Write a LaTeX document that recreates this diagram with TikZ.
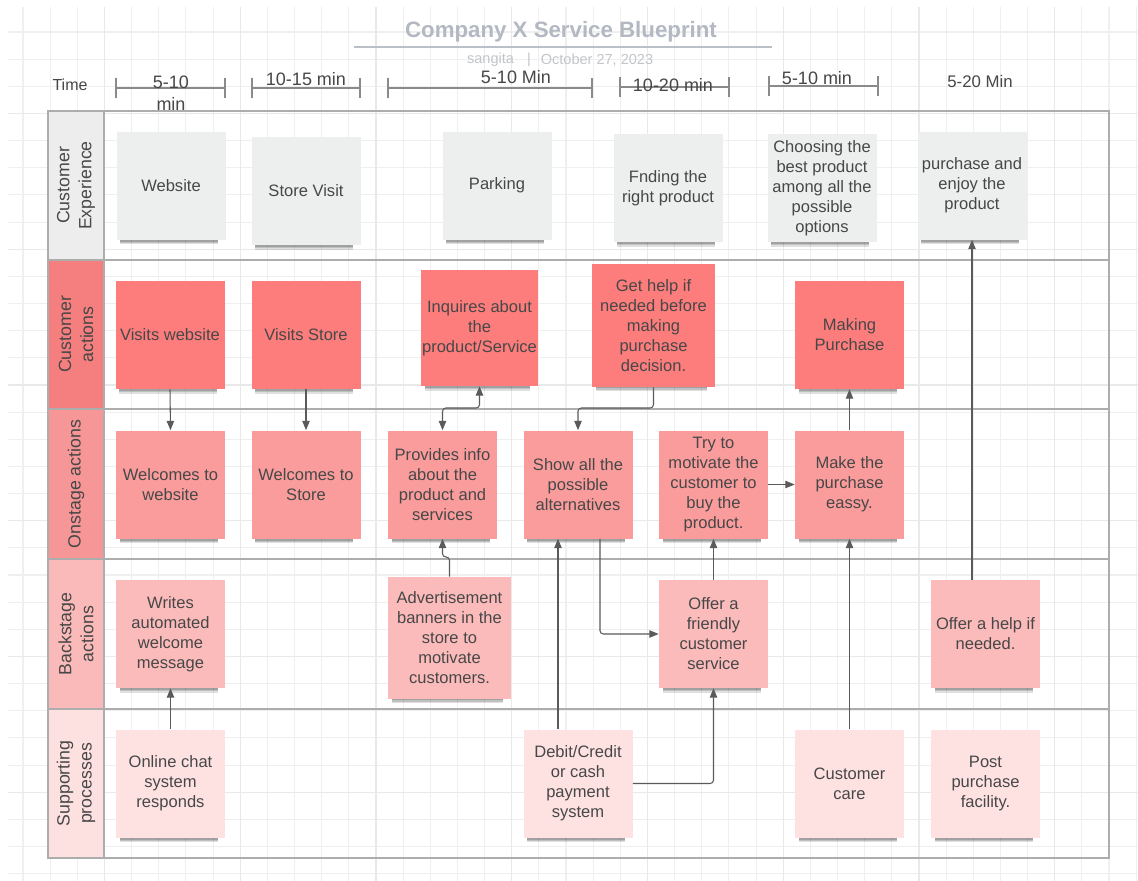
\documentclass[tikz,border=0pt]{standalone}
\usepackage{fontspec}
\setmainfont{Liberation Sans}
\usetikzlibrary{arrows.meta,shadows}

\definecolor{gridminor}{HTML}{EFEFEF}
\definecolor{gridmajor}{HTML}{E9E9E9}
\definecolor{framec}{HTML}{ADADAD}
\definecolor{txt}{HTML}{474747}
\definecolor{linec}{HTML}{5A5A5A}
\definecolor{rulerc}{HTML}{8A8A8A}
\definecolor{titlec}{HTML}{B3B8C2}
\definecolor{subc}{HTML}{C2C5CA}
% lane colours
\definecolor{laneCE}{HTML}{EDEDED}
\definecolor{laneCA}{HTML}{F57F7F}
\definecolor{laneON}{HTML}{F69696}
\definecolor{laneBK}{HTML}{FBBABA}
\definecolor{laneSP}{HTML}{FDE0E0}
% card colours
\definecolor{cardCE}{HTML}{EDEEEE}
\definecolor{cardCA}{HTML}{FD7D7D}
\definecolor{cardON}{HTML}{FA9C9C}
\definecolor{cardBK}{HTML}{FCBBBB}
\definecolor{cardSP}{HTML}{FEE2E2}

\begin{document}
\begin{tikzpicture}[x=0.75pt,y=-0.75pt,
  card/.style={rectangle, inner sep=0pt, align=center, text=txt,
    font=\fontsize{12.4pt}{15pt}\selectfont,
    minimum width=81.75pt, minimum height=81pt,
    drop shadow={shadow xshift=-1.5pt, shadow yshift=-8.6pt, shadow scale=0.9, fill=black, opacity=0.12},
    drop shadow={shadow xshift=-1.5pt, shadow yshift=-7.4pt, shadow scale=0.9, fill=black, opacity=0.14},
    drop shadow={shadow xshift=-1.5pt, shadow yshift=-6.2pt, shadow scale=0.9, fill=black, opacity=0.16}},
  ce/.style={card, fill=cardCE},
  ca/.style={card, fill=cardCA},
  on/.style={card, fill=cardON},
  bk/.style={card, fill=cardBK},
  sp/.style={card, fill=cardSP},
  lanelab/.style={rotate=90, align=center, text=txt, inner sep=0pt,
    font=\fontsize{13.3pt}{16.5pt}\selectfont},
  timelab/.style={align=center, text=txt, inner sep=0pt,
    font=\fontsize{13.5pt}{16.5pt}\selectfont},
  ruler/.style={draw=rulerc, line width=0.8pt},
  conn/.style={draw=linec, line width=0.8pt, rounded corners=2.5pt,
    -{Triangle[length=7pt,width=5.5pt]}},
  conn2/.style={conn, {Triangle[length=7pt,width=5.5pt]}-{Triangle[length=7pt,width=5.5pt]}}
]
\useasboundingbox (0,0) rectangle (1138,881);
\fill[white] (0,0) rectangle (1138,881);

% background grid
\foreach \k in {0,...,41}{
  \pgfmathsetmacro\gx{23+27.15*\k}
  \draw[gridminor, line width=0.8pt] (\gx,7) -- (\gx,881);
}
\foreach \k in {0,...,31}{
  \pgfmathsetmacro\gy{32+27.15*\k}
  \draw[gridminor, line width=0.8pt] (8,\gy) -- (1138,\gy);
}
\foreach \k in {3,8,...,38}{
  \pgfmathsetmacro\gx{23+27.15*\k}
  \draw[gridmajor, line width=1pt] (\gx,7) -- (\gx,881);
}
\foreach \k in {3,8,...,28}{
  \pgfmathsetmacro\gy{32+27.15*\k}
  \draw[gridmajor, line width=1pt] (8,\gy) -- (1138,\gy);
}

% title block
\node[font=\fontsize{16.7pt}{20pt}\selectfont\bfseries, text=titlec, inner sep=0pt] (title) at (561,32) {Company X Service Blueprint};
\draw[titlec!90, line width=1.5pt] (354,47.5) -- (772,47.5);
\node[font=\fontsize{10.9pt}{13pt}\selectfont, text=subc, inner sep=0pt] (author) at (490.5,60) {sangita};
\node[font=\fontsize{10.9pt}{13pt}\selectfont, text=subc, inner sep=0pt] (sep) at (529,60) {|};
\node[font=\fontsize{10.9pt}{13pt}\selectfont, text=subc, inner sep=0pt] (date) at (597,60) {October 27, 2023};

% time ruler
\node[timelab, font=\fontsize{12pt}{14pt}\selectfont] (time) at (70,85) {Time};
\draw[ruler] (116,88) -- (225,88);
\draw[ruler] (116,78) -- (116,98);
\draw[ruler] (225,78) -- (225,98);
\node[timelab] (t1) at (171,93) {5-10\\min};
\draw[ruler] (252,88) -- (360,88);
\draw[ruler] (252,78) -- (252,98);
\draw[ruler] (360,78) -- (360,98);
\node[timelab] (t2) at (306,79) {10-15 min};
\draw[ruler] (388,88) -- (592,88);
\draw[ruler] (388,78) -- (388,98);
\draw[ruler] (592,78) -- (592,98);
\node[timelab] (t3) at (516,77) {5-10 Min};
\draw[ruler] (620,87) -- (729,87);
\draw[ruler] (620,77) -- (620,97);
\draw[ruler] (729,77) -- (729,97);
\node[timelab] (t4) at (673,85) {10-20 min};
\draw[ruler] (769,86) -- (878,86);
\draw[ruler] (769,76) -- (769,96);
\draw[ruler] (878,76) -- (878,96);
\node[timelab] (t5) at (817,78) {5-10 min};
\node[timelab, font=\fontsize{12.6pt}{15pt}\selectfont] (t6) at (980,81) {5-20 Min};

% swimlane header column
\fill[laneCE] (48,111) rectangle (104,260);
\fill[laneCA] (48,260) rectangle (104,409);
\fill[laneON] (48,409) rectangle (104,559);
\fill[laneBK] (48,559) rectangle (104,709);
\fill[laneSP] (48,709) rectangle (104,858);
\draw[framec, line width=1.1pt] (48,111) rectangle (1109,858);
\draw[framec, line width=1.1pt] (104,111) -- (104,858);
\foreach \ly in {260,409,559,709}{
  \draw[framec, line width=1.4pt] (48,\ly) -- (1109,\ly);
}
\node[lanelab] (lce) at (76,185.5) {Customer\\Experience};
\node[lanelab] (lca) at (76,334.5) {Customer\\actions};
\node[lanelab] (lon) at (76,484) {Onstage actions};
\node[lanelab] (lbk) at (76,634) {Backstage\\actions};
\node[lanelab] (lsp) at (76,783.5) {Supporting\\processes};

% customer experience
\node[ce] (web) at (171,185.5) {Website};
\node[ce] (visit) at (306,191) {Store Visit};
\node[ce] (park) at (497,185.5) {Parking};
\node[ce] (find) at (668,188) {Fnding the\\right product};
\node[ce] (choose) at (822,188) {Choosing the\\best product\\among all the\\possible\\options};
\node[ce] (enjoy) at (972,185.5) {purchase and\\enjoy the\\product};

% customer actions
\node[ca] (vweb) at (170,335) {Visits website};
\node[ca] (vstore) at (306,335) {Visits Store};
\node[ca, minimum width=87.75pt, minimum height=87pt] (inq) at (479.5,328) {Inquires about\\the\\product/Service};
\node[ca, minimum width=92.25pt, minimum height=92.25pt] (help) at (653.5,325.5) {Get help if\\needed before\\making\\purchase\\decision.};
\node[ca] (mpur) at (849.5,335) {Making\\Purchase};

% onstage actions
\node[on] (wweb) at (170.5,484.5) {Welcomes to\\website};
\node[on] (wstore) at (306,484.5) {Welcomes to\\Store};
\node[on] (prov) at (442.5,484.5) {Provides info\\about the\\product and\\services};
\node[on] (show) at (578,484.5) {Show all the\\possible\\alternatives};
\node[on] (moti) at (713.5,484.5) {Try to\\motivate the\\customer to\\buy the\\product.};
\node[on] (easy) at (849.5,484.5) {Make the\\purchase\\eassy.};

% backstage actions
\node[bk] (writes) at (170.5,634) {Writes\\automated\\welcome\\message};
\node[bk, minimum width=92.25pt, minimum height=91.5pt] (ads) at (449.5,638) {Advertisement\\banners in the\\store to\\motivate\\customers.};
\node[bk] (friend) at (713.5,634) {Offer a\\friendly\\customer\\service};
\node[bk] (offer) at (985.5,634) {Offer a help if\\needed.};

% supporting processes
\node[sp] (chat) at (170.5,783.5) {Online chat\\system\\responds};
\node[sp] (pay) at (578,783.5) {Debit/Credit\\or cash\\payment\\system};
\node[sp] (care) at (849.5,783.5) {Customer\\care};
\node[sp] (post) at (985.5,783.5) {Post\\purchase\\facility.};

% connectors
\draw[conn] (vweb.south) -- (wweb.north);
\draw[conn] (vstore.south) -- (wstore.north);
\draw[conn2] (prov.north) |- (inq.south |- 0,408) -- (inq.south);
\draw[conn] (help.south) |- (show.north |- 0,408) -- (show.north);
\draw[conn] (ads.north) |- (prov.south |- 0,557) -- (prov.south);
\draw[conn] ([xshift=-15pt]pay.north) -- ([xshift=-15pt]show.south);
\draw[conn] ([xshift=16.5pt]show.south) |- (friend.west);
\draw[conn] (pay.east) -| (friend.south);
\draw[conn] (friend.north) -- (moti.south);
\draw[conn] (moti.east) -- (easy.west);
\draw[conn] (easy.north) -- (mpur.south);
\draw[conn] (care.north) -- (easy.south);
\draw[conn] (enjoy.south |- offer.north) -- (enjoy.south);
\draw[conn] (chat.north) -- (writes.south);
\end{tikzpicture}
\end{document}
